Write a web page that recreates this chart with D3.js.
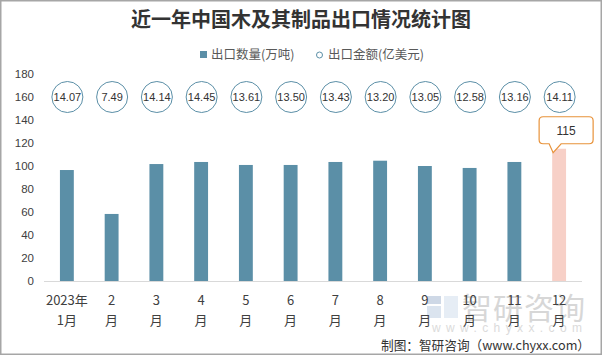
<!DOCTYPE html>
<html><head><meta charset="utf-8">
<script src="https://cdn.jsdelivr.net/npm/d3@7"></script>
<style>
html,body{margin:0;padding:0;background:#fff;}
svg{display:block;font-family:"Liberation Sans","Noto Sans CJK SC",sans-serif;}
</style></head>
<body><svg id="c" width="602" height="355"></svg>
<script>
const title = "近一年中国木及其制品出口情况统计图";
const line1 = ["2023年","2","3","4","5","6","7","8","9","10","11","12"];
const line2 = ["1月","月","月","月","月","月","月","月","月","月","月","月"];
const volume = [96.5,58.3,101.7,103.5,100.9,100.9,103.5,104.6,100,98.3,103.5,115];
const amount = ["14.07","7.49","14.14","14.45","13.61","13.50","13.43","13.20","13.05","12.58","13.16","14.11"];
const yTicks = [0,20,40,60,80,100,120,140,160,180];
const seriesNames = ["出口数量(万吨)","出口金额(亿美元)"];
const footer = "制图：智研咨询（www.chyxx.com）";

const svg = d3.select("#c");
const W = 602, H = 355;
const barColor = "#5b8fa7", hiColor = "#f7d0c7", txt = "#404040";

svg.append("rect").attr("x",0.75).attr("y",0.75).attr("width",W-1.5).attr("height",H-1.5)
  .attr("fill","#fff").attr("stroke","#a6a6a6").attr("stroke-width",1.5);

// watermark (behind everything)
const wm = svg.append("g").attr("opacity",0.5);
wm.append("rect").attr("x",427).attr("y",296).attr("width",14).attr("height",8).attr("fill","#9fb3cf");
wm.append("rect").attr("x",427).attr("y",306).attr("width",14).attr("height",12).attr("fill","#b9cbe0");
wm.append("rect").attr("x",444).attr("y",296).attr("width",14).attr("height",22).attr("fill","#cfdcec");
wm.append("text").attr("x",462).attr("y",319).attr("font-family","'Noto Sans CJK SC',sans-serif")
  .attr("font-size",30).attr("fill","#b0b0b0").attr("textLength",123).text("智研咨询");
wm.append("text").attr("x",432).attr("y",332).attr("font-family","'Liberation Sans',sans-serif")
  .attr("font-size",12).attr("fill","#b8b8b8").attr("textLength",150).attr("lengthAdjust","spacing").text("www.chyxx.com");

svg.append("text").attr("x",301).attr("y",27).attr("text-anchor","middle")
  .attr("font-family","'Noto Sans CJK SC',sans-serif").attr("font-weight","bold")
  .attr("font-size",20).attr("fill","#333").text(title);

// legend
const lg = svg.append("g").attr("font-family","'Noto Sans CJK SC',sans-serif").attr("font-size",12.5).attr("fill","#595959");
lg.append("rect").attr("x",200).attr("y",51).attr("width",7).attr("height",7).attr("fill",barColor);
lg.append("text").attr("x",211).attr("y",59).text(seriesNames[0]);
lg.append("circle").attr("cx",319.5).attr("cy",55).attr("r",3).attr("fill","#fff").attr("stroke",barColor).attr("stroke-width",1);
lg.append("text").attr("x",328).attr("y",59).text(seriesNames[1]);

const x = d3.scaleBand().domain(d3.range(line1.length)).range([44.5,581.5]).paddingInner(0.69).paddingOuter(0.345);
const xc = i => x(i) + x.bandwidth()/2;
const y = d3.scaleLinear().domain([0,180]).range([281,74]);

// y axis labels
const yAxis = d3.axisLeft(y).tickValues(yTicks).tickSize(0).tickPadding(0);
const ya = svg.append("g").attr("transform","translate(34,0)").call(yAxis);
ya.select(".domain").remove();
ya.selectAll("text").attr("font-size",11.5).attr("fill",txt).attr("font-family","'Liberation Sans',sans-serif");

// baseline
svg.append("line").attr("x1",44).attr("x2",582).attr("y1",281.5).attr("y2",281.5).attr("stroke","#d9d9d9").attr("stroke-width",1);

// bars
svg.append("g").selectAll("rect").data(volume).join("rect")
  .attr("x",(d,i)=>x(i)).attr("width",x.bandwidth())
  .attr("y",d=>y(d)).attr("height",d=>y(0)-y(d))
  .attr("fill",(d,i)=> i===volume.length-1 ? hiColor : barColor);

// amount circles
const cg = svg.append("g");
amount.forEach((v,i)=>{
  cg.append("circle").attr("cx",xc(i)+0.5).attr("cy",y(160)).attr("r",15.5)
    .attr("fill","#fff").attr("stroke",barColor).attr("stroke-width",1);
  cg.append("text").attr("x",xc(i)+0.5).attr("y",y(160)+4).attr("text-anchor","middle")
    .attr("font-size",11).attr("fill","#333").text(v);
});

// callout for last bar
const li = volume.length-1, bx = xc(li), by = y(volume[li]);
const bl = bx-20, br = bx+34, bt = by-32, bb = by-5, r = 4;
const p = `M${bl+r},${bt} H${br-r} Q${br},${bt} ${br},${bt+r} V${bb-r} Q${br},${bb} ${br-r},${bb} H${bx+2} L${bx-6},${by+4} L${bx-10},${bb} H${bl+r} Q${bl},${bb} ${bl},${bb-r} V${bt+r} Q${bl},${bt} ${bl+r},${bt} Z`;
svg.append("path").attr("d",p).attr("fill","#fff").attr("stroke","#e8923a").attr("stroke-width",1.2);
svg.append("text").attr("x",(bl+br)/2).attr("y",(bt+bb)/2+4.5).attr("text-anchor","middle")
  .attr("font-size",12).attr("fill","#333").text(volume[li]);

// x labels
const xg = svg.append("g").attr("font-family","'Noto Sans CJK SC',sans-serif").attr("font-size",13).attr("fill",txt).attr("text-anchor","middle");
line1.forEach((t,i)=>{
  xg.append("text").attr("x",xc(i)).attr("y",305).text(t);
  xg.append("text").attr("x",xc(i)).attr("y",325).text(line2[i]);
});

// footer
svg.append("text").attr("x",381).attr("y",350).attr("font-family","'Noto Sans CJK SC',sans-serif")
  .attr("font-size",13).attr("fill","#333").attr("textLength",209).attr("lengthAdjust","spacingAndGlyphs").text(footer);
</script></body></html>
